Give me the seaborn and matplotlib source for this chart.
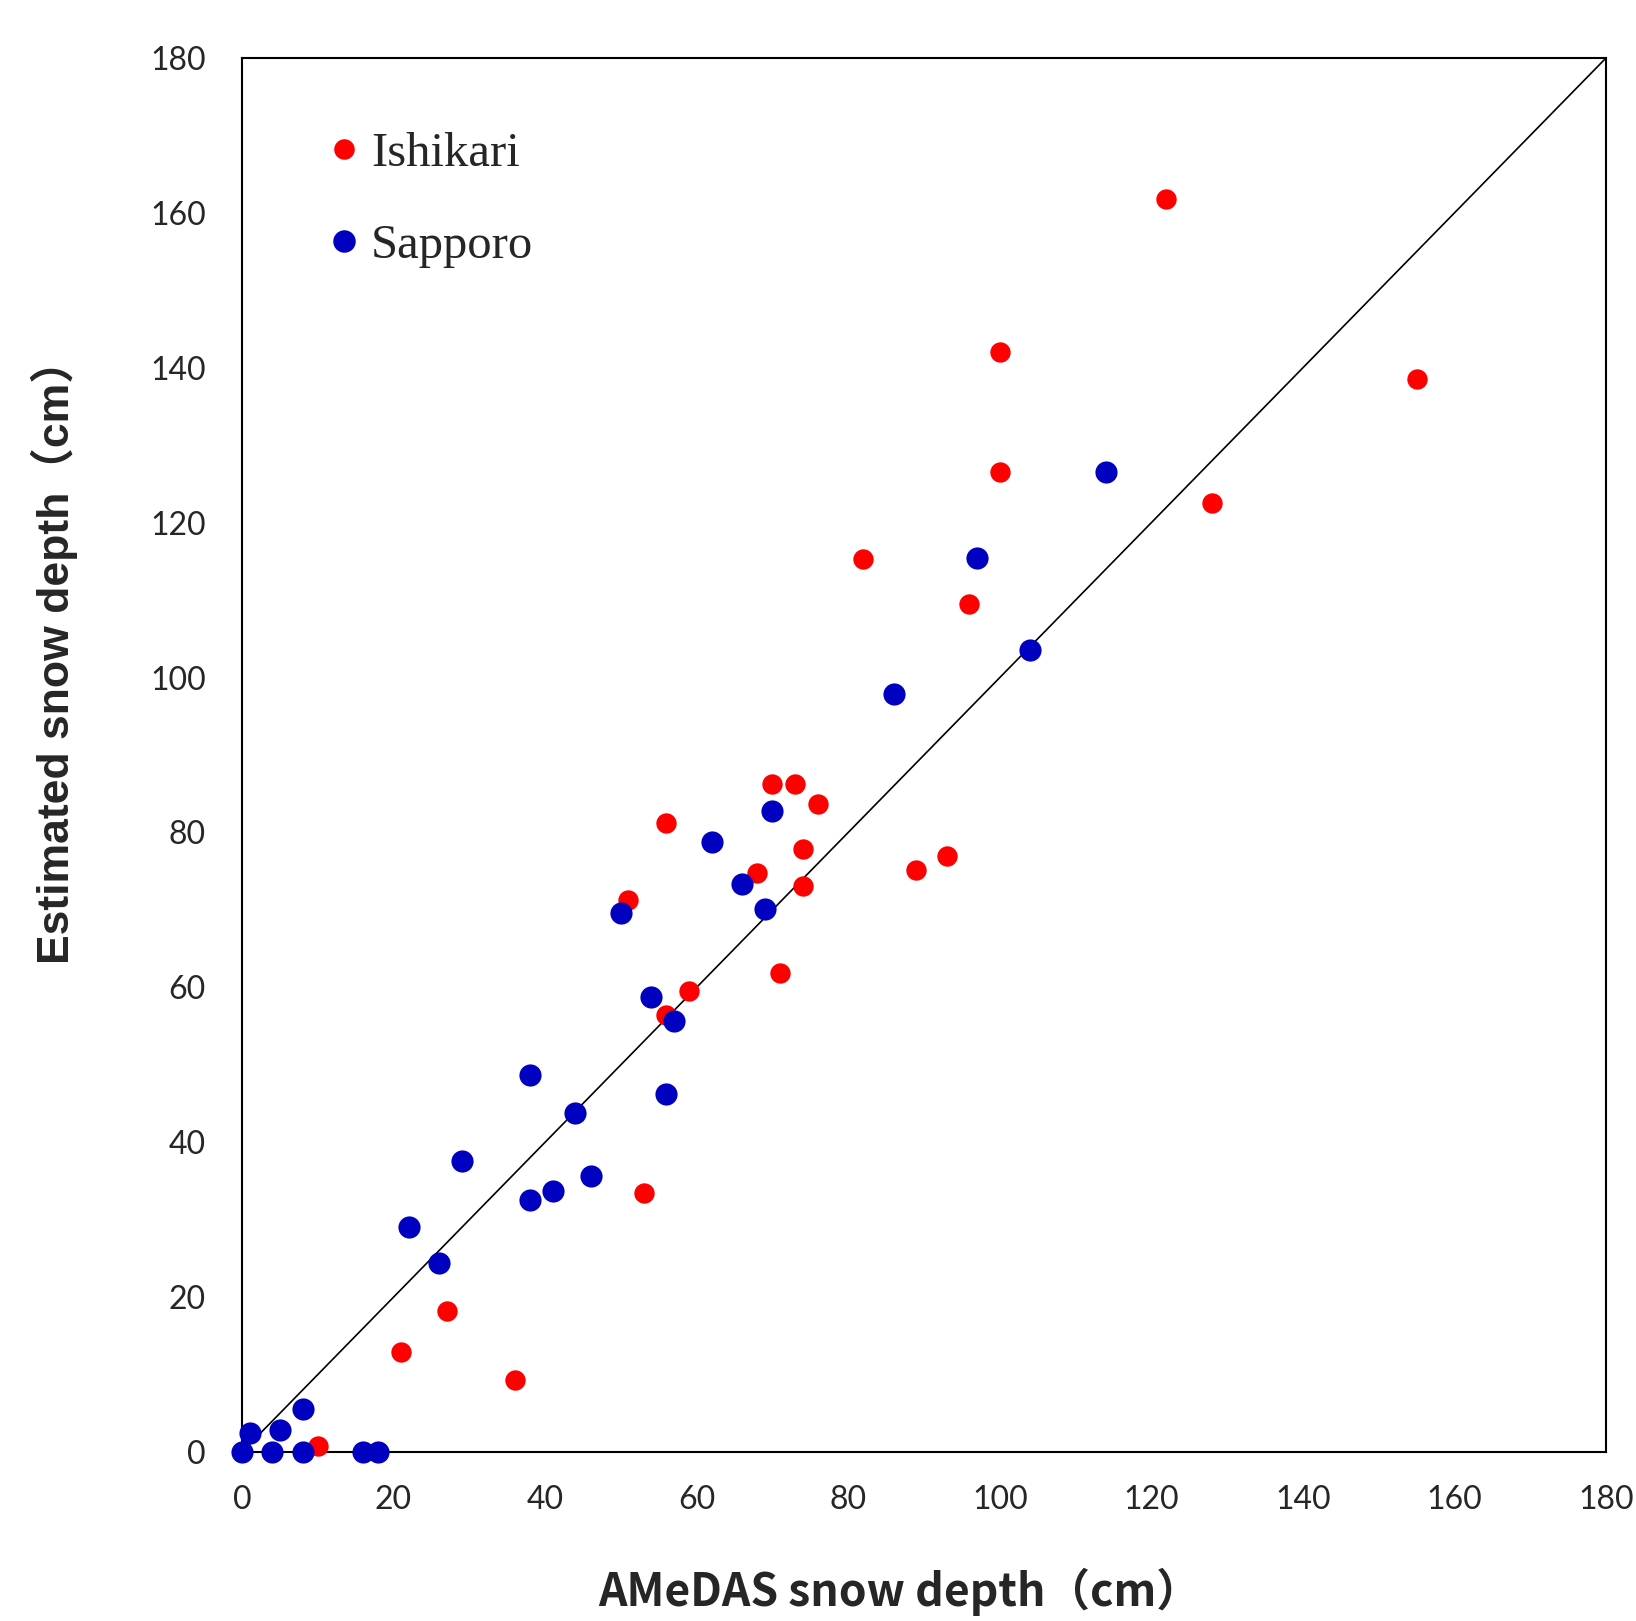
import matplotlib.pyplot as plt
import pandas as pd
import seaborn as sns
from matplotlib.lines import Line2D

# Datos (cm)
ishikari_amedas = [122, 100, 155, 100, 128, 82, 96, 70, 73, 76, 56, 74, 93, 89, 68,
                   74, 51, 71, 59, 56, 53, 27, 21, 36, 10]
ishikari_est = [161.8, 142, 138.6, 126.6, 122.6, 115.3, 109.5, 86.2, 86.2, 83.7, 81.2,
                77.8, 76.9, 75.1, 74.7, 73.1, 71.3, 61.8, 59.5, 56.4, 33.4, 18.2, 12.9,
                9.3, 0.8]

sapporo_amedas = [114, 97, 104, 86, 70, 62, 66, 69, 50, 54, 57, 38, 56, 44, 29, 46,
                  41, 38, 22, 26, 8, 5, 1, 0, 4, 8, 16, 18]
sapporo_est = [126.6, 115.4, 103.5, 97.9, 82.8, 78.8, 73.3, 70.1, 69.6, 58.8, 55.7,
               48.7, 46.2, 43.8, 37.6, 35.6, 33.7, 32.6, 29.0, 24.4, 5.5, 2.9, 2.4, 0,
               0, 0, 0, 0]

series_names = ['Ishikari', 'Sapporo']
series_colors = ['#FF0000', '#0000C0']
axis_limits = [0, 180]
ticks = [0, 20, 40, 60, 80, 100, 120, 140, 160, 180]

df_ish = pd.DataFrame({'amedas': ishikari_amedas, 'est': ishikari_est})
df_sap = pd.DataFrame({'amedas': sapporo_amedas, 'est': sapporo_est})

sns.set_style('white')

fig = plt.figure(figsize=(16.36, 16.21), dpi=100)
ax = fig.add_axes([242 / 1636, 1 - 1452 / 1621, 1364 / 1636, 1394 / 1621])

# Linea 1:1
ax.plot(axis_limits, axis_limits, color='black', linewidth=1.2, zorder=1)

sns.scatterplot(data=df_ish, x='amedas', y='est', color=series_colors[0], s=215,
                linewidth=0, ax=ax, zorder=3)
sns.scatterplot(data=df_sap, x='amedas', y='est', color=series_colors[1], s=255,
                linewidth=0, ax=ax, zorder=4)
# los puntos en cero tapan el eje como en el original
for coll in ax.collections:
    coll.set_clip_on(False)

ax.set_xlim(axis_limits)
ax.set_ylim(axis_limits)
ax.set_xticks(ticks)
ax.set_yticks(ticks)
ax.set_xticklabels([str(t) for t in ticks], fontfamily='Lato', fontsize=23)
ax.set_yticklabels([str(t) for t in ticks], fontfamily='Lato', fontsize=23)
ax.tick_params(axis='x', length=0, pad=24)
ax.tick_params(axis='y', length=0, pad=26)
for sp in ax.spines.values():
    sp.set_color('black')
    sp.set_linewidth(1.5)

# Etiquetas de ejes
ax.set_xlabel('AMeDAS snow depth（cm）', fontsize=32, fontweight='bold',
              family=['Noto Sans CJK JP', 'DejaVu Sans'], va='baseline', ha='center')
ax.xaxis.set_label_coords(0.4824, (1452 - 1606) / 1394)
ax.set_ylabel('Estimated snow depth（cm）', fontsize=32, fontweight='bold',
              family=['Liberation Sans', 'Noto Sans CJK JP'], va='center', ha='center',
              rotation_mode='default')
ax.yaxis.set_label_coords((54 - 242) / 1364, (1452 - 651) / 1394)

# Leyenda
handles = [
    Line2D([], [], linestyle='none', marker='o', markersize=14.8,
           markerfacecolor=series_colors[0], markeredgewidth=0),
    Line2D([], [], linestyle='none', marker='o', markersize=16.2,
           markerfacecolor=series_colors[1], markeredgewidth=0),
]
ax.legend(handles, series_names, loc='upper left', bbox_to_anchor=(0.066, 0.947),
          frameon=False, prop={'family': 'Liberation Serif', 'size': 35},
          handlelength=0.5, handletextpad=0.3, labelspacing=0.98,
          borderpad=0, borderaxespad=0)

fig.savefig('out.png', dpi=100)
